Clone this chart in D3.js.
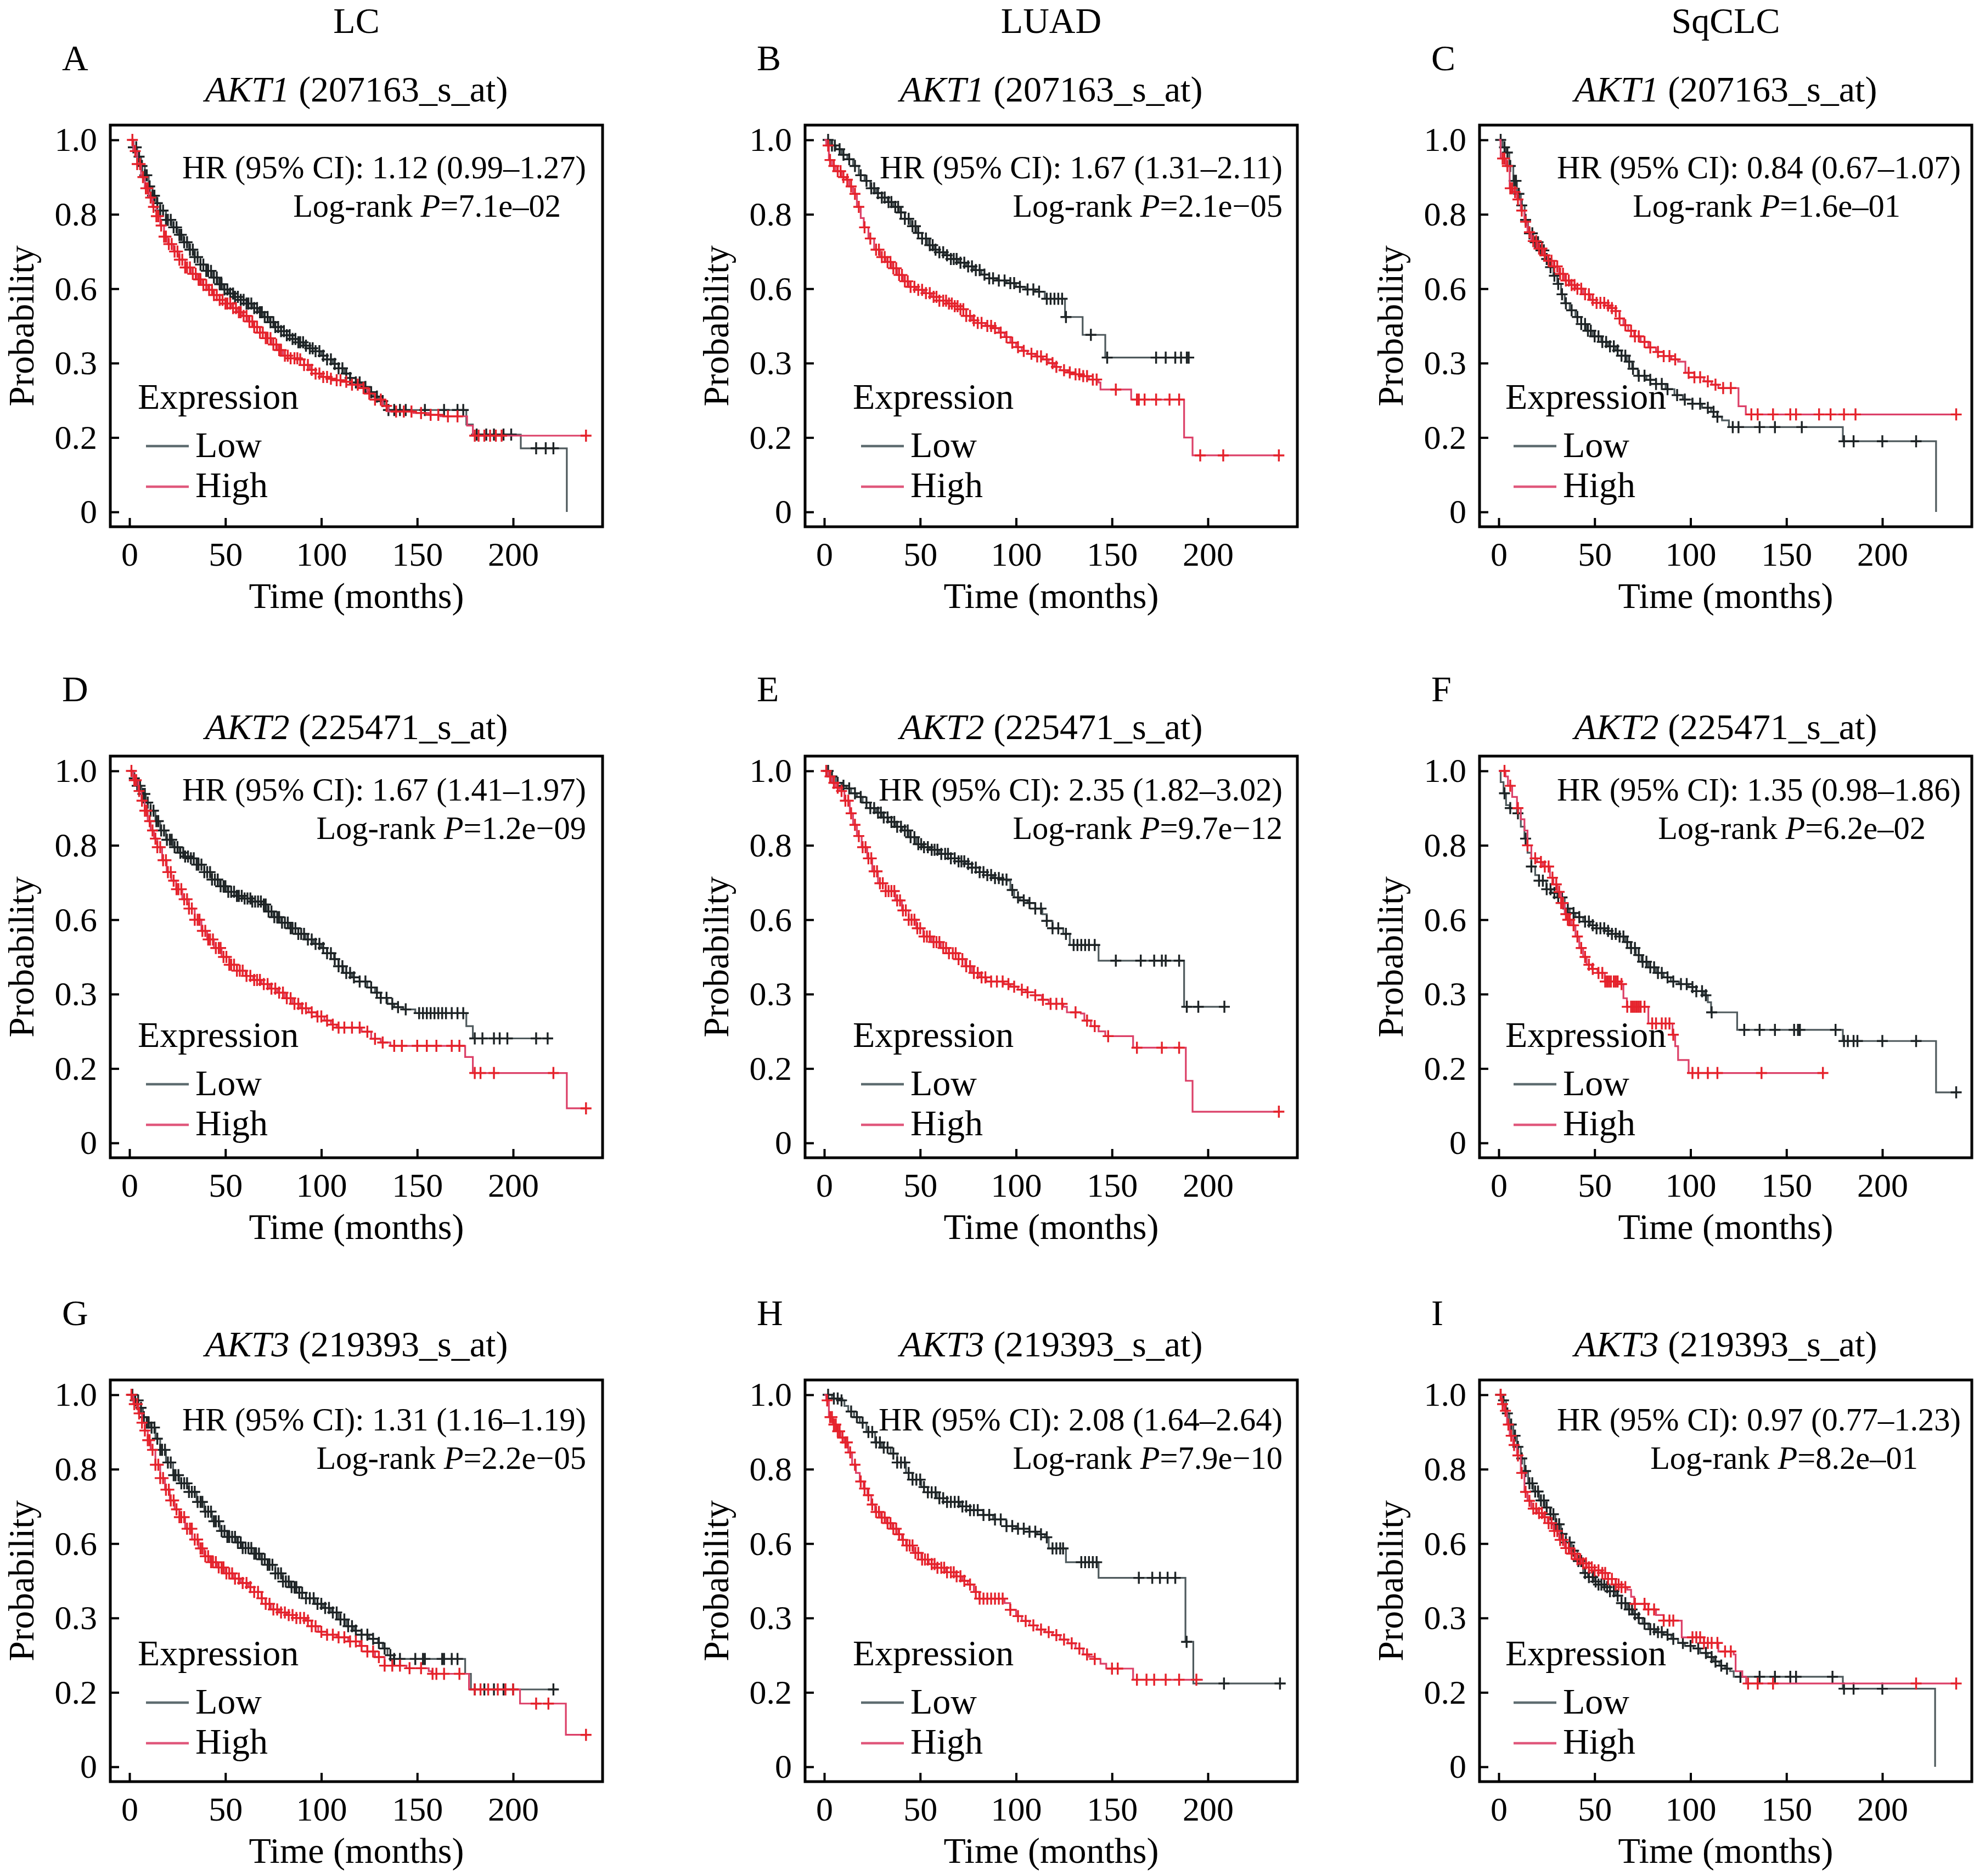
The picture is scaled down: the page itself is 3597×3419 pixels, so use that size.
<!DOCTYPE html>
<html><head><meta charset="utf-8">
<script src="https://cdn.jsdelivr.net/npm/d3@7"></script>
<style>
body{margin:0;background:#fff}
text{font-family:"Liberation Serif","Times New Roman",serif;fill:#000}
</style>
</head><body>
<svg id="c" width="3597" height="3419"></svg>
<script>
// ---------------- DATA ----------------
const columns = ["LC", "LUAD", "SqCLC"];
const panelLetters = ["A","B","C","D","E","F","G","H","I"];
const genes = ["AKT1", "AKT2", "AKT3"];
const probes = ["207163_s_at", "225471_s_at", "219393_s_at"];
const hrTexts = [
  "HR (95% CI): 1.12 (0.99\u20131.27)", "HR (95% CI): 1.67 (1.31\u20132.11)", "HR (95% CI): 0.84 (0.67\u20131.07)",
  "HR (95% CI): 1.67 (1.41\u20131.97)", "HR (95% CI): 2.35 (1.82\u20133.02)", "HR (95% CI): 1.35 (0.98\u20131.86)",
  "HR (95% CI): 1.31 (1.16\u20131.19)", "HR (95% CI): 2.08 (1.64\u20132.64)", "HR (95% CI): 0.97 (0.77\u20131.23)"
];
const pValues = ["7.1e\u201302","2.1e\u221205","1.6e\u201301","1.2e\u221209","9.7e\u221212","6.2e\u201302","2.2e\u221205","7.9e\u221210","8.2e\u201301"];
const xTicks = [0, 50, 100, 150, 200];
const yTickValues = [0, 0.2, 0.4, 0.6, 0.8, 1.0];
const yTickLabels = ["0", "0.2", "0.3", "0.6", "0.8", "1.0"];
const groups = ["Low", "High"];
const legendTitle = "Expression";
const xTitle = "Time (months)";
const yTitle = "Probability";

// Kaplan-Meier steps: [time (months), survival from that time on]; censor times (months)
const A_low = [[0,1],[2,0.98],[4,0.955],[6,0.93],[8,0.905],[10,0.875],[12,0.85],[14,0.83],[16,0.81],[19,0.785],[22,0.765],[25,0.745],[28,0.725],[31,0.705],[34,0.685],[37,0.665],[40,0.648],[43,0.63],[46,0.612],[49,0.598],[52,0.587],[55,0.578],[58,0.57],[61,0.56],[64,0.548],[67,0.537],[70,0.524],[73,0.51],[76,0.497],[79,0.486],[82,0.475],[85,0.465],[88,0.456],[91,0.447],[94,0.44],[97,0.432],[100,0.42],[103,0.41],[106,0.398],[109,0.386],[112,0.372],[115,0.36],[118,0.348],[121,0.336],[124,0.322],[127,0.31],[130,0.298],[133,0.285],[135,0.274],[175.6,0.235],[179,0.208],[204,0.171],[228,0]];
const A_low_cens = [2,3.5,5,6.5,8,9,10.5,12,13,14.5,16,17.5,19,20,21.5,23,24.5,26,27,28.5,30,31.5,33,34,35.5,37,38.5,40,41,42.5,44,45.5,47,48,49.5,51,52.5,54,55,56.5,58,59.5,61,62,63.5,65,66.5,68,69,70.5,72,73.5,75,76,77.5,79,80.5,82,83.5,85,86.5,88,89,90.5,92,94,95.5,97,99,101,103,105,107,109,111,113,115,118,120,123,126,129,132,135,138,141,144,154,164,171,174,181,186,190,195,199,212,217,221];
const A_high = [[0,1],[2,0.97],[4,0.935],[6,0.9],[8,0.87],[10,0.845],[12,0.82],[14,0.795],[16,0.77],[18,0.74],[20,0.72],[23,0.7],[26,0.678],[29,0.657],[32,0.64],[35,0.625],[38,0.61],[41,0.597],[44,0.583],[47,0.57],[50,0.56],[53,0.548],[56,0.537],[59,0.527],[62,0.512],[65,0.497],[68,0.482],[71,0.467],[74,0.45],[77,0.435],[80,0.42],[84,0.413],[88,0.41],[91,0.395],[94,0.382],[97,0.372],[100,0.363],[104,0.358],[108,0.354],[112,0.35],[116,0.342],[120,0.333],[124,0.318],[128,0.302],[132,0.285],[135,0.27],[148,0.266],[156,0.261],[162,0.257],[176,0.232],[179,0.205],[238,0.205]];
const A_high_cens = [1.5,3,4,5.5,7,8.5,9.5,11,12.5,14,15,16.5,18,19,20.5,22,23.5,25,26,27.5,29,30,31.5,33,34.5,36,37,38.5,40,41.5,43,44,45.5,47,48.5,50,51,52.5,54,55.5,57,58,59.5,61,62.5,64,65,66.5,68,69.5,71,72,73.5,75,76.5,78,79,81,82.5,84,86,87.5,89,91,93,95,97,99,101,103,105,108,110,113,116,119,122,125,128,131,134,139,143,147,152,157,161,166,171,180,182,185,188,191,194,238];

const B_low = [[0,1],[3,0.985],[6,0.975],[9,0.96],[12,0.948],[15,0.93],[18,0.905],[21,0.89],[24,0.87],[27,0.857],[30,0.845],[33,0.833],[36,0.82],[39,0.805],[42,0.788],[45,0.768],[48,0.75],[51,0.735],[54,0.717],[57,0.705],[60,0.698],[63,0.69],[66,0.68],[70,0.67],[74,0.66],[78,0.65],[82,0.638],[86,0.628],[90,0.622],[95,0.615],[100,0.605],[105,0.598],[110,0.592],[115,0.573],[125.5,0.524],[134.7,0.476],[146.5,0.415],[190,0.415]];
const B_low_cens = [2,4,5.5,8,10,13,16,19,22,24.5,26,28,30,31.5,33.5,35,37,38.5,40,42,44,46,47.5,49,51,53,55,56.5,58,60,62,64,66,67.5,69,71,73,75,77,79,81,83.5,86,88,91,94,97,99,102,106,109,112,116,118,120,122,124,126,139,147.5,173,178,183,186,189,190];
const B_high = [[0,1],[1,0.985],[2.4,0.946],[4,0.93],[6,0.916],[9,0.9],[11.5,0.893],[13,0.875],[15,0.855],[17,0.82],[19,0.79],[20.6,0.765],[23,0.735],[26,0.705],[29,0.685],[32,0.672],[35,0.655],[38,0.637],[41,0.62],[44,0.605],[48,0.597],[52,0.588],[56,0.578],[60,0.568],[64,0.56],[68,0.553],[71,0.545],[74,0.527],[77,0.515],[80,0.508],[84,0.5],[88,0.494],[91,0.482],[94,0.47],[97,0.455],[100,0.443],[103,0.433],[106,0.425],[110,0.418],[114,0.41],[117,0.4],[120,0.39],[123,0.381],[127,0.375],[131,0.37],[134,0.365],[138,0.356],[143,0.348],[144,0.329],[160,0.302],[187.6,0.2],[192,0.152],[237,0.152]];
const B_high_cens = [2,3,5,7,8.5,10,12,14,16,18,21,24,27,28.5,30,31.5,33,34.5,36,37.5,39,40.5,42,43.5,45,47,49,51,53,55,57,58.5,60,62,63.5,65,66.5,68,69.5,71,72.5,74,76,78,80,82,85,87,89,92,95,98,101,104,108,111,113,116,119,121,125,128,131,133,135,137,140,142,152,163,164,167,173,180,185,196,208,237];

const C_low = [[0,1],[2,0.98],[3.8,0.966],[5.5,0.93],[7.6,0.89],[9.5,0.855],[11.5,0.824],[13.5,0.785],[15.3,0.749],[18,0.725],[21,0.703],[24,0.68],[26.7,0.658],[28.5,0.635],[30.5,0.613],[32.5,0.585],[34.4,0.561],[37,0.542],[40,0.524],[43,0.505],[45.8,0.487],[49,0.472],[53.4,0.457],[57,0.445],[61,0.434],[64,0.42],[66.8,0.404],[69.5,0.385],[72.5,0.366],[77,0.355],[82,0.344],[87,0.33],[91.6,0.314],[96,0.302],[101,0.291],[106,0.28],[110.7,0.269],[114,0.256],[116.4,0.246],[120,0.228],[179.4,0.19],[228,0]];
const C_low_cens = [1,3,4.5,6,8,9,10.5,12,14,16,17.5,19,20.5,22,23.5,25,27,29,31,33,35,38,41,43,45,46.5,48,50,52,54,56,58,60,62,64,66,68,70,73,76,79,82,85,88,93,97,101,105,109,112,114,122,125,136,144,158,180,185,200,217.6];
const C_high = [[0,1],[1,0.95],[3.8,0.93],[5.7,0.87],[7.5,0.86],[9.5,0.84],[11.5,0.81],[13.4,0.78],[15,0.752],[17,0.728],[20,0.708],[23,0.69],[25.5,0.675],[28.6,0.66],[31.5,0.64],[34.4,0.622],[37,0.61],[40,0.6],[44,0.585],[47.7,0.57],[51,0.562],[55.3,0.555],[58,0.548],[61,0.54],[63,0.52],[65,0.502],[67.5,0.487],[70.6,0.472],[74,0.457],[78,0.442],[82,0.43],[86,0.419],[90,0.41],[93.5,0.404],[97.3,0.374],[102,0.362],[107,0.351],[111,0.342],[114.5,0.333],[125,0.284],[128.8,0.262],[238.5,0.262]];
const C_high_cens = [2,3,4.5,6,7,8.5,10,12,14,16,18,19.5,21,22.5,24,26,27.5,29,30.5,32,33.5,35,36.5,38,39.5,41,43,45,47,49,51,53,55,57,59,61,63,66,69,71,73,76,79,83,86,89,92,99,102,105,109,113,117,121,131.7,135,143,152,155,167,173,180,186,238.5];

const D_low = [[0,1],[2,0.98],[4,0.96],[6.2,0.938],[8.5,0.915],[11,0.893],[13.5,0.865],[16,0.84],[19,0.815],[22.7,0.795],[26,0.78],[29,0.77],[31,0.765],[35,0.748],[39,0.728],[43,0.708],[47,0.69],[51,0.675],[55.6,0.664],[59,0.657],[63.8,0.649],[68.8,0.641],[72,0.622],[75,0.607],[79,0.592],[83.5,0.577],[88,0.562],[91.8,0.547],[96,0.535],[100,0.524],[103,0.51],[106.6,0.494],[109,0.475],[111.5,0.457],[116,0.445],[120,0.434],[124,0.418],[128,0.404],[131,0.39],[134.5,0.374],[138,0.365],[142.8,0.359],[149,0.349],[175.6,0.314],[179,0.281],[220,0.281]];
const D_low_cens = [2.5,4,5.5,7,8,9.5,11,12.5,14,15,16.5,18,19.5,21,22,23.5,25,26.5,28,29,30.5,32,33.5,35,36,37.5,39,40.5,42,43,44.5,46,47.5,49,50,51.5,53,54.5,56,57,58.5,60,61.5,63,64,65.5,67,68.5,70,71,72.5,74,75.5,77,78,79.5,81,82.5,84,85,86.5,88,89.5,91,93,95,97,99,101,103,105,107,109,111,113,115,117,120,123,126,129,131,134,137,140,144,151,153,155,157,159,161,163,165,168,171,174,180,184,190,193,197,212,218];
const D_high = [[0,1],[2,0.975],[4.6,0.946],[6.2,0.92],[7.9,0.893],[9.5,0.865],[11,0.84],[12.8,0.818],[14.5,0.795],[17,0.76],[19.4,0.728],[21.8,0.705],[24.3,0.682],[27.5,0.655],[31,0.63],[34,0.6],[37.5,0.57],[40.5,0.547],[44,0.524],[48,0.5],[52,0.479],[56,0.463],[60.5,0.449],[64.5,0.438],[68.8,0.427],[73,0.415],[77,0.404],[81,0.389],[85,0.374],[89,0.362],[93.4,0.351],[97.5,0.34],[101.6,0.329],[105,0.318],[108,0.31],[121,0.299],[126,0.28],[131,0.27],[136,0.261],[175,0.231],[179,0.188],[228,0.093],[238,0.093]];
const D_high_cens = [1,2.5,3.5,5,6.5,8,9,10.5,12,13.5,14.5,16,17.5,19,20,21.5,23,24.5,25.5,27,28.5,30,31,32.5,34,35.5,36.5,38,39.5,41,42,43.5,45,46.5,47.5,49,50.5,52,53,54.5,56,57.5,59,61,63,65,66.5,68,70,72,74,76,78,80,82,84,86,88,90,92,95,98,100,103,106,109,112,116,120,124,128,132,138,142,150,155,160,168,172,180,183,190,221,238];

const E_low = [[0,1],[3,0.985],[6,0.968],[9,0.96],[11.5,0.953],[14,0.94],[17,0.93],[20,0.915],[24,0.9],[27,0.888],[30,0.875],[33.4,0.863],[37,0.85],[40.7,0.84],[44,0.822],[48,0.803],[51,0.795],[55,0.788],[60,0.777],[66,0.765],[70,0.757],[73.5,0.75],[77,0.74],[81,0.728],[85,0.72],[88,0.712],[92,0.708],[95.4,0.705],[97,0.68],[99,0.66],[102,0.652],[106,0.645],[110,0.63],[113.7,0.615],[116,0.597],[119,0.577],[124.6,0.562],[128,0.532],[143,0.49],[187.6,0.366],[208.6,0.366]];
const E_low_cens = [2,4,7,10,13,16,19,22,24,26,28,29.5,31,33,35,36.5,38,40,42,43.5,45,47,49,50.5,52,54,56,57.5,59,61,63,64.5,66,68,70,71.5,73,75,77,79,81,83,85,87,89,91,93,95,98,101,104,107,110,113,116,119,122,126,130,132,134,136,138,141,152,165,172,176,178,185,189,195,208.6];
const E_high = [[0,1],[2,0.985],[4,0.968],[6,0.955],[8,0.946],[10.5,0.92],[13.3,0.886],[15,0.855],[17,0.825],[19.5,0.795],[22.4,0.765],[25,0.73],[28,0.698],[32,0.677],[37,0.652],[40.5,0.625],[44,0.6],[48,0.577],[51.6,0.555],[56,0.54],[60.8,0.524],[65,0.51],[70,0.494],[73.5,0.475],[77,0.457],[81,0.445],[84.5,0.434],[93.6,0.427],[97,0.42],[101,0.412],[105,0.405],[110,0.397],[113.5,0.385],[117,0.374],[124.6,0.366],[126.5,0.351],[133.8,0.348],[135.6,0.329],[139,0.314],[143,0.3],[146.5,0.287],[161,0.256],[188.5,0.167],[192,0.084],[237,0.084]];
const E_high_cens = [1,3,5,7,9,11,12.5,14,16,18,20,21.5,23,24.5,26,27.5,29,30.5,32,33.5,35,36.5,38,39.5,41,42.5,44,45.5,47,48.5,50,52,53.5,55,57,58.5,60,62,63.5,65,67,68.5,70,72,74,76,78,80,82,84,87,90,93,96,99,103,106,110,114,118,121,124,131,137,141,148,163,176,185,237];

const F_low = [[0,1],[1,0.97],[2.5,0.94],[3.8,0.908],[5.7,0.9],[9.5,0.886],[11.5,0.85],[13.4,0.818],[15,0.78],[17,0.743],[19,0.72],[21,0.705],[24.8,0.682],[27.5,0.672],[30.5,0.66],[34.4,0.63],[37,0.618],[40,0.607],[44,0.595],[47.7,0.585],[51,0.577],[55.3,0.57],[59,0.562],[63,0.555],[66,0.54],[68.7,0.524],[71.5,0.505],[74.4,0.487],[78,0.472],[82,0.457],[86,0.445],[89.7,0.434],[94,0.427],[99,0.419],[103,0.408],[107,0.397],[109,0.378],[110.7,0.351],[124.3,0.304],[179.4,0.274],[228,0.136],[238.5,0.136]];
const F_low_cens = [3,6,10,14,17,21,23,25,27,29,31,33,36,39,42,45,47,49,51,53,55,57,59,61,63,65,67,69,71,73,75,77,79,81,83,85,88,91,95,98,101,103,106,108,111,128,136,144,154,156,157,175.6,180,182,185,187,200,217.6,238.5];
const F_high = [[0,1],[3.5,0.985],[4.8,0.96],[7,0.93],[9.5,0.9],[11.5,0.87],[13.4,0.84],[15,0.8],[17,0.765],[20,0.755],[23,0.743],[26.7,0.713],[28.5,0.695],[30.5,0.675],[32.5,0.645],[34.4,0.615],[36,0.6],[38,0.585],[40,0.555],[42,0.524],[44,0.5],[45.8,0.479],[48.5,0.468],[51.5,0.457],[55.3,0.434],[63,0.427],[65,0.389],[66.8,0.366],[78,0.321],[90.6,0.291],[92,0.26],[93.5,0.223],[99,0.188],[170,0.188]];
const F_high_cens = [3,6,10,15,19,22,24,26,28,30,31.5,32.5,33.5,35,36,37,39,41,43,45,47,49,52,54,55.5,56.5,57.5,58.5,60,61,62,64,67,69,70,71,72,73,74,76,80,82,85,87,89,91,101,104,109,114,137,169];

const G_low = [[0,1],[2,0.985],[4.6,0.965],[7,0.94],[9,0.925],[11,0.912],[13.5,0.882],[16,0.852],[19,0.818],[22.7,0.784],[26,0.762],[31,0.739],[35,0.712],[39,0.686],[43,0.66],[47,0.634],[51,0.618],[55.6,0.603],[59,0.588],[63.8,0.573],[68,0.558],[72,0.543],[76,0.52],[80,0.498],[84,0.483],[88.5,0.468],[92,0.453],[96.7,0.438],[101,0.427],[105,0.415],[109,0.396],[113,0.378],[117,0.366],[121,0.355],[125,0.344],[129.6,0.333],[132,0.318],[134.5,0.3],[137.8,0.29],[175,0.25],[178,0.208],[223,0.208]];
const G_low_cens = [1.5,3,4.5,6,7.5,9,10,11.5,13,14.5,16,17,18.5,20,21.5,23,24,25.5,27,28.5,30,31,32.5,34,35.5,37,38,39.5,41,42.5,44,45,46.5,48,49.5,51,52,53.5,55,56.5,58,59,60.5,62,63.5,65,66,67.5,69,70.5,72,73,74.5,76,77.5,79,80,81.5,83,84.5,86,87,88.5,90,92,94,96,98,100,102,104,106,108,110,112,114,116,118,121,124,127,130,133,136,138,141,149,153,154,163,164,168,171,180,185,190,195,200,221];
const G_high = [[0,1],[2,0.975],[4.6,0.95],[6.5,0.925],[8,0.904],[9.5,0.878],[11,0.852],[13.5,0.812],[16,0.776],[18.5,0.745],[21,0.716],[23.5,0.692],[26,0.671],[29,0.64],[32.6,0.611],[36,0.587],[39,0.566],[42,0.55],[45.7,0.536],[50,0.52],[54,0.506],[58,0.494],[62,0.483],[65,0.47],[68.8,0.453],[71,0.438],[73.7,0.423],[78,0.415],[82,0.408],[87,0.4],[92,0.393],[95,0.378],[98.4,0.363],[103,0.355],[108,0.348],[114,0.337],[120,0.325],[124,0.31],[128,0.295],[133,0.272],[144.4,0.265],[156,0.257],[157.6,0.25],[177,0.208],[203.6,0.17],[227.5,0.086],[238,0.086]];
const G_high_cens = [1,2.5,4,5,6.5,8,9.5,10.5,12,13.5,15,16,17.5,19,20.5,21.5,23,24.5,26,27,28.5,30,31.5,32.5,34,35.5,37,38,39.5,41,42.5,43.5,45,46.5,48,49,50.5,52,53.5,55,57,59,61,63,65,67,69,71,73,75,77,79,81,83,85,87,89,91,93,95,97,100,103,106,109,112,115,118,121,124,127,130,133,137,141,146,152,158,160,164,172,180,183,187,192,196,200,212,218.4,238];

const H_low = [[0,1],[4,0.99],[8.4,0.985],[10.5,0.97],[12.5,0.955],[15.5,0.94],[18.5,0.925],[22,0.9],[26.5,0.872],[30,0.858],[34.6,0.842],[38,0.818],[42.6,0.79],[46,0.772],[50.6,0.752],[54,0.738],[58.7,0.722],[64,0.712],[70.8,0.7],[76,0.69],[82.8,0.677],[88,0.665],[94.9,0.647],[100,0.64],[107,0.632],[111,0.625],[115,0.617],[117,0.587],[126,0.55],[143,0.508],[188.3,0.336],[192.4,0.224],[240.6,0.224]];
const H_low_cens = [2,5,7,9,14,17,20,23,25,27,29,31,33,36,38,40,42,44,46,48,50,52,54,56,58,60,62,64,66,68,70,72,74,76,78,80,83,86,89,92,95,98,101,104,107,110,113,116,119,121,123,124.5,134,136,138,140,142,164,171,175,179,183,188.9,208.4,237.6];
const H_high = [[0,1],[1,0.985],[2.4,0.94],[4.5,0.92],[6.4,0.902],[8.5,0.885],[10.5,0.872],[12.5,0.845],[14.5,0.812],[16.5,0.79],[18.5,0.767],[20.5,0.748],[22.5,0.73],[24.5,0.705],[26.5,0.685],[29.5,0.67],[32.5,0.655],[35.5,0.64],[38.6,0.625],[40.5,0.61],[42.6,0.595],[46.5,0.575],[50.6,0.557],[54.5,0.545],[58.7,0.535],[63.5,0.523],[68.7,0.512],[72,0.5],[74.8,0.49],[78,0.47],[80.8,0.452],[94,0.44],[96.9,0.422],[100,0.405],[103,0.392],[107,0.38],[111,0.369],[115,0.362],[119,0.354],[123,0.342],[127,0.332],[131,0.318],[135,0.302],[138,0.296],[141,0.29],[144,0.277],[147,0.264],[161,0.234],[197.4,0.234]];
const H_high_cens = [1.5,3,4,5,6,7,8,9.5,11,12,13.5,16,19,21,23,25,27,28.5,30,31.5,33,34.5,36,37.5,39,41,43,44.5,46,47.5,49,51,52.5,54,56,57.5,59,61,62.5,64,66,67.5,69,71,73,76,79,81,83,85,87,89,91,93,97,101,105,109,113,117,121,125,129,133,137,141,150,153,163,168,172,178,185,194];

const I_low = [[0,1],[1.5,0.985],[3.8,0.95],[5.5,0.92],[7.6,0.89],[9.5,0.86],[11.5,0.829],[13.4,0.795],[15.3,0.762],[18,0.74],[21,0.716],[24,0.697],[26.7,0.679],[29.5,0.652],[32.4,0.626],[35,0.603],[38,0.581],[41,0.553],[44,0.521],[46.5,0.51],[49.6,0.498],[52,0.49],[55.3,0.483],[58,0.472],[61,0.46],[64,0.44],[67,0.423],[70,0.41],[72.5,0.4],[75,0.385],[78,0.37],[82,0.362],[86,0.355],[90,0.344],[93.5,0.333],[97,0.325],[101.5,0.318],[105,0.306],[109,0.295],[112,0.283],[115,0.272],[118,0.264],[120.6,0.257],[122.5,0.242],[179.4,0.21],[227.5,0]];
const I_low_cens = [1,2.5,4.5,6.5,8.5,10,12,14,16,17.5,19,20.5,22,23.5,25,27,28.5,30,31.5,33,35,37,39,41.5,43,45,47,49,50.5,52,53.5,55,56.5,58,60,62,64,66,68,69.5,71,73,76,79,81,83,85,88,91,96,100,104,108,111,113,116,119,126,136,144,152,155,174,180,185,200];
const I_high = [[0,1],[1.5,0.975],[2.9,0.957],[4.3,0.92],[5.7,0.89],[7.5,0.865],[9.5,0.837],[11.5,0.79],[13.4,0.739],[15,0.715],[17,0.694],[20,0.682],[23,0.671],[25.5,0.655],[28.6,0.634],[31.5,0.61],[34.4,0.588],[37,0.573],[40,0.558],[43,0.547],[45.8,0.536],[50,0.528],[53.4,0.521],[57,0.505],[61,0.49],[64,0.483],[67,0.476],[69,0.457],[70.6,0.438],[76.3,0.423],[82,0.408],[86,0.393],[95.4,0.348],[107,0.333],[114.5,0.31],[122.5,0.302],[123.5,0.257],[127,0.242],[129,0.224],[238.5,0.224]];
const I_high_cens = [1,2,3.5,5,6.5,8,10,12,14,16,18,19.5,21,22.5,24,26,27.5,29,30.5,32,33.5,35,36.5,38,39.5,41,42.5,44,45.5,47,48.5,50,52,54,55.5,57,59,61,62.5,64,66,71,76,78,81,86,89,91,101,103,105,107,109,111,114,118,121,130,135,143,217.6,238.5];

const lowSteps = [A_low, B_low, C_low, D_low, E_low, F_low, G_low, H_low, I_low];
const lowCens = [A_low_cens, B_low_cens, C_low_cens, D_low_cens, E_low_cens, F_low_cens, G_low_cens, H_low_cens, I_low_cens];
const highSteps = [A_high, B_high, C_high, D_high, E_high, F_high, G_high, H_high, I_high];
const highCens = [A_high_cens, B_high_cens, C_high_cens, D_high_cens, E_high_cens, F_high_cens, G_high_cens, H_high_cens, I_high_cens];

// ---------------- LAYOUT / STYLE ----------------
const colLefts = [201, 1467, 2696];
const rowTops = [228, 1378, 2515];
const W = 897, H = 732;
const hrRight = [30, 27, 20];
const lrShift = [46, 0, 110, 0, 0, 64, 0, 0, 78];
const titleDy = [-43, -31, -43];
const statDy = [0, -16, -5];
const legendDy = [0, 13, 3];
const legendDx = [0, 37, -3];
const style = {
  low:  {line: "#4f5a5d", mark: "#1d2325", legend: "#5e6c70"},
  high: {line: "#dc4068", mark: "#e5222b", legend: "#e0587c"}
};

const svg = d3.select("#c");
svg.append("rect").attr("width", 3597).attr("height", 3419).attr("fill", "#fff");

// column headers
columns.forEach((name, c) => {
  svg.append("text").attr("x", colLefts[c] + W / 2).attr("y", 60)
    .attr("text-anchor", "middle").attr("font-size", 66).text(name);
});

for (let i = 0; i < 9; i++) {
  const r = Math.floor(i / 3), c = i % 3;
  const L = colLefts[c], T = rowTops[r], R = L + W, B = T + H;
  const g = svg.append("g");
  const x = d3.scaleLinear().domain([0, 200]).range([L + 35, L + 35 + 699]);
  const y = d3.scaleLinear().domain([0, 1]).range([T + 705, T + 27]);

  // panel letter
  g.append("text").attr("x", L - 88).attr("y", T - 100).attr("font-size", 66).text(panelLetters[i]);
  // title
  const tt = g.append("text").attr("x", L + W / 2).attr("y", T + titleDy[r])
    .attr("text-anchor", "middle").attr("font-size", 66);
  tt.append("tspan").attr("font-style", "italic").text(genes[r]);
  tt.append("tspan").text(" (" + probes[r] + ")");

  // axes
  const ya = d3.axisLeft(y).tickValues(yTickValues).tickFormat((d, k) => yTickLabels[k])
    .tickSize(-16).tickPadding(24);
  const yg = g.append("g").attr("transform", `translate(${L},0)`).call(ya);
  const xa = d3.axisBottom(x).tickValues(xTicks).tickFormat(d3.format("d")).tickSize(-16).tickPadding(27);
  const xg = g.append("g").attr("transform", `translate(0,${B})`).call(xa);
  [yg, xg].forEach(a => {
    a.select(".domain").remove();
    a.selectAll(".tick line").attr("stroke", "#000").attr("stroke-width", 4);
    a.selectAll(".tick text").attr("font-size", 62)
      .attr("font-family", "'Liberation Serif','Times New Roman',serif").attr("fill", "#000");
  });

  // axis titles
  g.append("text").attr("x", L + W / 2).attr("y", B + 148).attr("text-anchor", "middle")
    .attr("font-size", 66).text(xTitle);
  g.append("text").attr("transform", `translate(${L - 140},${T + H / 2}) rotate(-90)`)
    .attr("text-anchor", "middle").attr("font-size", 66).text(yTitle);

  // curves
  const line = d3.line().x(d => x(d[0])).y(d => y(d[1])).curve(d3.curveStepAfter);
  const bis = d3.bisector(d => d[0]).right;
  [[lowSteps[i], lowCens[i], style.low], [highSteps[i], highCens[i], style.high]].forEach(([steps, cens, st]) => {
    g.append("path").attr("d", line(steps)).attr("fill", "none")
      .attr("stroke", st.line).attr("stroke-width", 3.2);
    const marks = cens.map(t => {
      const k = Math.max(0, bis(steps, t) - 1);
      const px = x(t), py = y(steps[k][1]);
      return `M${px - 10},${py}h20M${px},${py - 11}v22`;
    }).join("");
    g.append("path").attr("d", marks).attr("fill", "none")
      .attr("stroke", st.mark).attr("stroke-width", 3.4);
  });

  // frame
  g.append("rect").attr("x", L).attr("y", T).attr("width", W).attr("height", H)
    .attr("fill", "none").attr("stroke", "#000").attr("stroke-width", 5);

  // statistics
  g.append("text").attr("x", R - hrRight[c]).attr("y", T + 97 + statDy[r]).attr("text-anchor", "end")
    .attr("font-size", 58.5).text(hrTexts[i]);
  const lr = g.append("text").attr("x", R - hrRight[c] - lrShift[i]).attr("y", T + 167 + statDy[r])
    .attr("text-anchor", "end").attr("font-size", 58.5);
  lr.append("tspan").text("Log-rank ");
  lr.append("tspan").attr("font-style", "italic").text("P");
  lr.append("tspan").text("=" + pValues[i]);

  // legend
  const lx = L + legendDx[c], ly = T + legendDy[r];
  g.append("text").attr("x", lx + 50).attr("y", ly + 517).attr("font-size", 66).text(legendTitle);
  groups.forEach((name, k) => {
    const st = k === 0 ? style.low : style.high;
    const yy = ly + 585 + k * 74;
    g.append("line").attr("x1", lx + 65).attr("x2", lx + 143).attr("y1", yy).attr("y2", yy)
      .attr("stroke", st.legend).attr("stroke-width", 4.5);
    g.append("text").attr("x", lx + 155).attr("y", ly + 605 + k * 73).attr("font-size", 66).text(name);
  });
}
</script>
</body></html>
